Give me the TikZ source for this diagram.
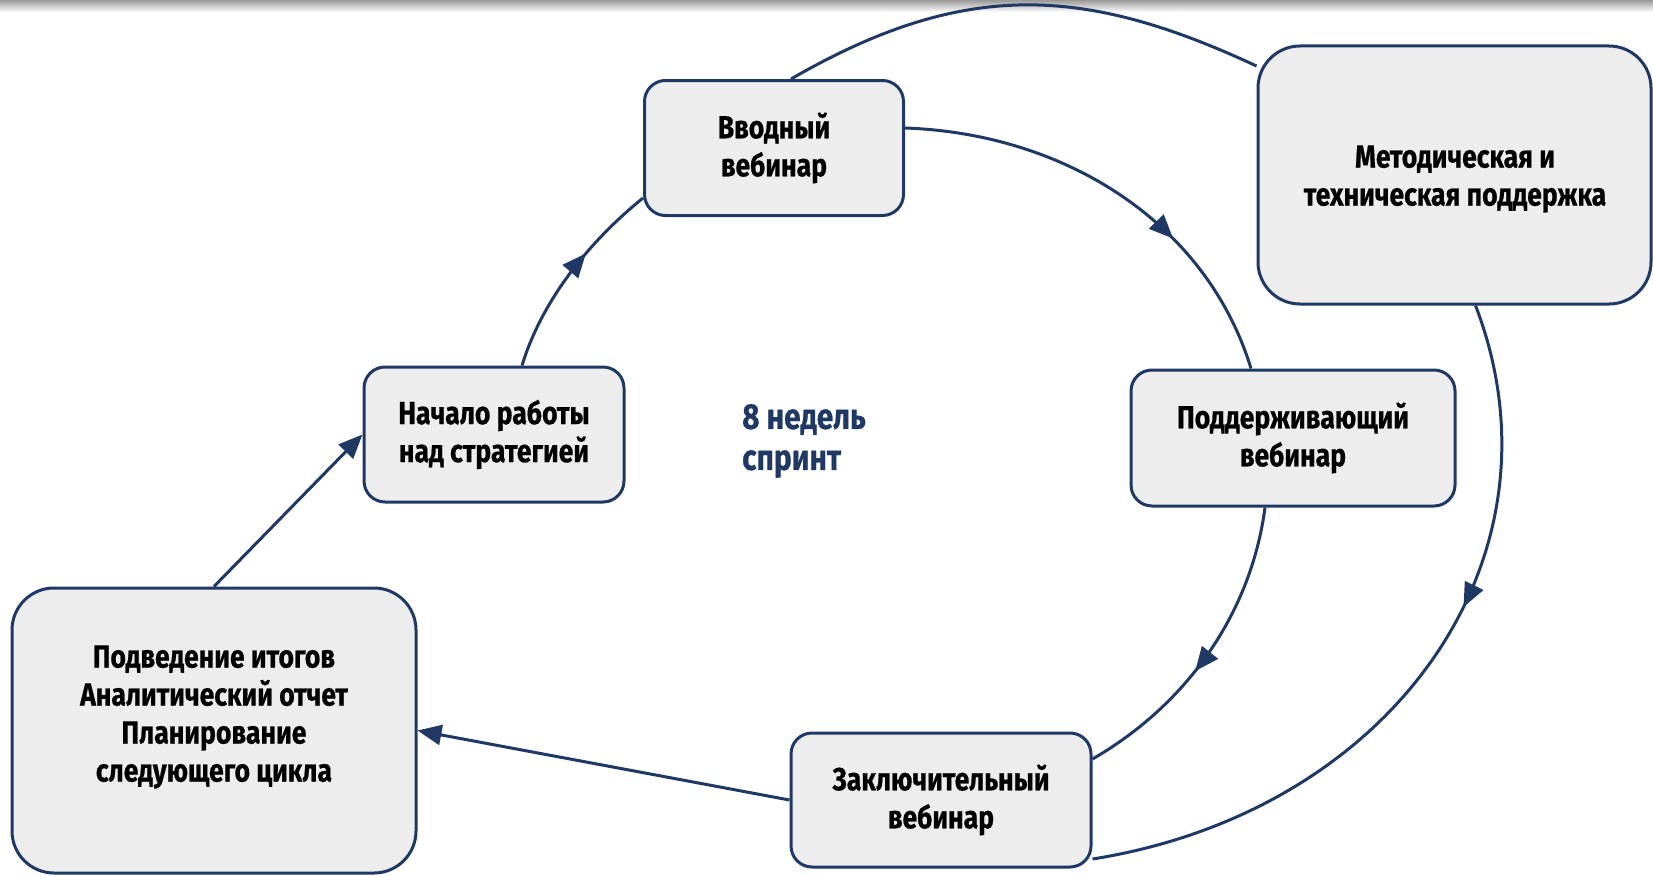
\documentclass[tikz,border=0pt]{standalone}
\usepackage{fontspec}
\setmainfont{Fira Sans}[FakeStretch=0.83, BoldFeatures={FakeBold=0.6}]
\usetikzlibrary{arrows.meta, decorations.markings, positioning}
\definecolor{Navy}{HTML}{1F3864}
\definecolor{BoxFill}{HTML}{EDEDED}

\begin{document}
\begin{tikzpicture}[x=1pt, y=-1pt,
    font=\fontsize{32}{38}\selectfont\bfseries,
    stage/.style={draw=Navy, line width=3pt, fill=BoxFill, rounded corners=21pt,
        align=center, inner sep=0pt},
    bigstage/.style={stage, rounded corners=42pt},
    flow/.style={draw=Navy, line width=3pt},
    tip/.style={-{Triangle[length=24pt, width=20pt]}},
    midarrow/.style={postaction={decorate}, decoration={markings,
        mark=at position #1 with {\arrow{Triangle[length=24pt, width=20pt]}}}}]
    \useasboundingbox (0,0) rectangle (1653,875);
    \shade[top color=gray!80, bottom color=white] (0,0) rectangle (1653,12);
    % stages of the cycle
    \node[stage, minimum width=259pt, minimum height=135pt] (vv) at (774,148) {Вводный\\вебинар};
    \node[bigstage, minimum width=393pt, minimum height=258pt] (mp) at (1454.5,175) {};
    \node[align=center] (mptext) at (1455,179) {Методическая и\\техническая поддержка};
    \node[stage, minimum width=260pt, minimum height=135pt] (nr) at (494,434.5) {Начало работы\\над стратегией};
    \node[stage, minimum width=324pt, minimum height=136pt] (pv) at (1293,438) {Поддерживающий\\вебинар};
    \node[bigstage, minimum width=404pt, minimum height=285pt] (pi) at (214,730.5) {};
    \node[align=center] (pitext) at (214,717) {Подведение итогов\\Аналитический отчет\\Планирование\\следующего цикла};
    \node[stage, minimum width=300pt, minimum height=134pt] (zv) at (941,800) {Заключительный\\вебинар};
    \node[text=Navy, align=left, anchor=west, inner sep=0pt, font=\fontsize{36}{41}\selectfont\bfseries] (sprint) at (742,441) {8 недель\\спринт};
    % inner loop
    \draw[flow, midarrow=0.66] ([yshift=20pt]vv.east) .. controls +(-2:162pt) and +(107:151pt) .. ([xshift=-42pt]pv.north);
    \draw[flow, midarrow=0.57] ([xshift=-28pt]pv.south) .. controls +(-97.5:105pt) and +(30:111pt) .. ([yshift=41pt]zv.east);
    \draw[flow, tip] (zv.west) -- (pi.east);
    \draw[flow, tip] (pi.north) -- (nr.west);
    \draw[flow, midarrow=0.62] ([xshift=28pt]nr.north) .. controls +(73:68pt) and +(219:70pt) .. ([yshift=-50pt]vv.west);
    % outer loop
    \draw[flow] ([xshift=17pt]vv.north) .. controls +(30:200pt) and +(155:190pt) .. ([yshift=109pt]mp.west);
    \draw[flow, midarrow=0.4] ([xshift=21pt]mp.south) .. controls +(-69:270pt) and +(9:304pt) .. ([yshift=-59pt]zv.east);
\end{tikzpicture}
\end{document}
